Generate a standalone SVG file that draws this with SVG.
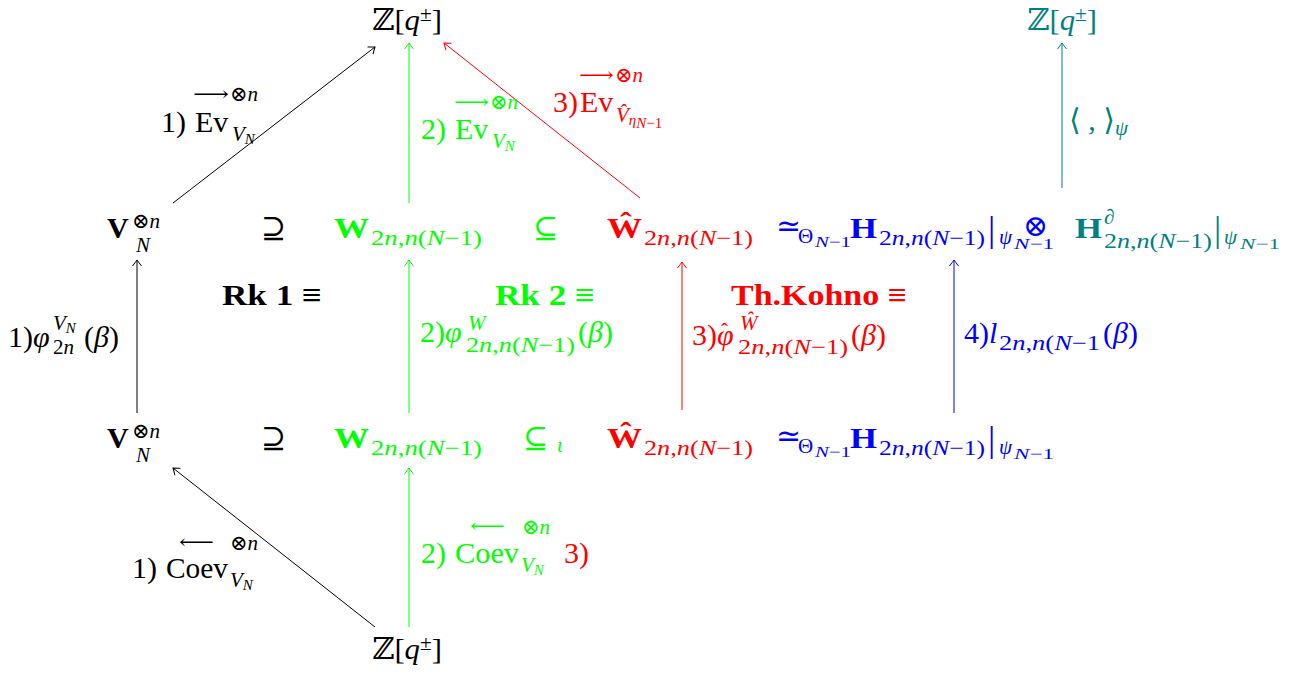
<svg xmlns="http://www.w3.org/2000/svg" width="1306" height="674" viewBox="0 0 1306 674">
<style>
text{font-family:"Liberation Serif","DejaVu Serif",serif;font-size:30px}
.s{font-size:21px}
.ss{font-size:15px}
.b{font-weight:bold}
.i{font-style:italic}
.n{font-style:normal}
.k{fill:#000}
.g{fill:#00ff00}
.r{fill:#ff0000}
.bl{fill:#0000ff}
.t{fill:#008080}
.bar{font-size:36px}
.ln{fill:none;stroke-width:1}
</style>
<defs>
<marker id="ak" markerUnits="userSpaceOnUse" markerWidth="12" markerHeight="12" viewBox="-7 -6 8 12" refX="0" refY="0" orient="auto"><path d="M-6,-4.5 Q-1.5,-1 0,0 Q-1.5,1 -6,4.5" fill="none" stroke="#000" stroke-width="1"/></marker>
<marker id="ag" markerUnits="userSpaceOnUse" markerWidth="12" markerHeight="12" viewBox="-7 -6 8 12" refX="0" refY="0" orient="auto"><path d="M-6,-4.5 Q-1.5,-1 0,0 Q-1.5,1 -6,4.5" fill="none" stroke="#00ff00" stroke-width="1"/></marker>
<marker id="ar" markerUnits="userSpaceOnUse" markerWidth="12" markerHeight="12" viewBox="-7 -6 8 12" refX="0" refY="0" orient="auto"><path d="M-6,-4.5 Q-1.5,-1 0,0 Q-1.5,1 -6,4.5" fill="none" stroke="#ff0000" stroke-width="1"/></marker>
<marker id="ab" markerUnits="userSpaceOnUse" markerWidth="12" markerHeight="12" viewBox="-7 -6 8 12" refX="0" refY="0" orient="auto"><path d="M-6,-4.5 Q-1.5,-1 0,0 Q-1.5,1 -6,4.5" fill="none" stroke="#0000ff" stroke-width="1"/></marker>
<marker id="at" markerUnits="userSpaceOnUse" markerWidth="12" markerHeight="12" viewBox="-7 -6 8 12" refX="0" refY="0" orient="auto"><path d="M-6,-4.5 Q-1.5,-1 0,0 Q-1.5,1 -6,4.5" fill="none" stroke="#008080" stroke-width="1"/></marker>
</defs>

<g id="connectors">
<path class="ln" stroke="#000" d="M173,203 L375,47" marker-end="url(#ak)"/>
<path class="ln" stroke="#00ff00" d="M409,203 L409,43" marker-end="url(#ag)"/>
<path class="ln" stroke="#ff0000" d="M640,198 L444,43" marker-end="url(#ar)"/>
<path class="ln" stroke="#008080" d="M1062,188 L1062,43" marker-end="url(#at)"/>
<path class="ln" stroke="#000" d="M137,413 L137,260" marker-end="url(#ak)"/>
<path class="ln" stroke="#00ff00" d="M409,413 L409,260" marker-end="url(#ag)"/>
<path class="ln" stroke="#ff0000" d="M682,410 L682,262" marker-end="url(#ar)"/>
<path class="ln" stroke="#0000ff" d="M954,413 L954,260" marker-end="url(#ab)"/>
<path class="ln" stroke="#000" d="M375,627 L173,468" marker-end="url(#ak)"/>
<path class="ln" stroke="#00ff00" d="M409,627 L409,468" marker-end="url(#ag)"/>
</g>

<g id="z-top">
<text class="k" x="372" y="30" textLength="70" lengthAdjust="spacingAndGlyphs">ℤ[<tspan class="i">q</tspan><tspan class="s" dy="-9">±</tspan><tspan dy="9">]</tspan></text>
</g>
<g id="z-top-teal">
<text class="t" x="1027" y="30" textLength="70" lengthAdjust="spacingAndGlyphs">ℤ[<tspan class="i">q</tspan><tspan class="s" dy="-9">±</tspan><tspan dy="9">]</tspan></text>
</g>

<g id="v-top">
<text class="k b" x="107" y="238">V</text>
<text class="k s" x="132" y="228">⊗<tspan class="i">n</tspan></text>
<text class="k s i" x="136" y="252">N</text>
</g>
<g id="supset-top"><text class="k" x="261" y="238">⊇</text></g>
<g id="w-top">
<text class="g b" x="334" y="238" textLength="35" lengthAdjust="spacingAndGlyphs">W</text>
<text class="g s" x="371" y="245" textLength="111" lengthAdjust="spacingAndGlyphs">2<tspan class="i">n</tspan>,<tspan class="i">n</tspan>(<tspan class="i">N</tspan>−1)</text>
</g>
<g id="subseteq-top"><text class="g" x="533" y="238">⊆</text></g>
<g id="what-top">
<text class="r b" x="607" y="238" textLength="35" lengthAdjust="spacingAndGlyphs">Ŵ</text>
<text class="r s" x="644" y="245" textLength="109" lengthAdjust="spacingAndGlyphs">2<tspan class="i">n</tspan>,<tspan class="i">n</tspan>(<tspan class="i">N</tspan>−1)</text>
</g>
<g id="h-top">
<text class="bl" x="776" y="236">≃</text>
<text class="bl s" x="798" y="243">Θ</text>
<text class="bl ss i" x="815" y="247" textLength="36" lengthAdjust="spacingAndGlyphs">N<tspan class="n">−1</tspan></text>
<text class="bl b" x="850" y="238" textLength="27" lengthAdjust="spacingAndGlyphs">H</text>
<text class="bl s" x="879" y="245" textLength="106" lengthAdjust="spacingAndGlyphs">2<tspan class="i">n</tspan>,<tspan class="i">n</tspan>(<tspan class="i">N</tspan>−1)</text>
<text class="bl bar" x="988" y="241">|</text>
<text class="bl s i" x="999" y="244">ψ</text>
<text class="bl ss i" x="1014" y="249" textLength="40" lengthAdjust="spacingAndGlyphs">N<tspan class="n">−1</tspan></text>
<text class="bl" x="1023" y="236">⊗</text>
</g>
<g id="hd-top">
<text class="t b" x="1075" y="238" textLength="27" lengthAdjust="spacingAndGlyphs">H</text>
<text class="t s i" x="1104" y="224">∂</text>
<text class="t s" x="1104" y="248" textLength="108" lengthAdjust="spacingAndGlyphs">2<tspan class="i">n</tspan>,<tspan class="i">n</tspan>(<tspan class="i">N</tspan>−1)</text>
<text class="t bar" x="1214" y="241">|</text>
<text class="t s i" x="1224" y="244">ψ</text>
<text class="t ss i" x="1240" y="249" textLength="40" lengthAdjust="spacingAndGlyphs">N<tspan class="n">−1</tspan></text>
</g>

<g id="v-bottom">
<text class="k b" x="107" y="448">V</text>
<text class="k s" x="132" y="438">⊗<tspan class="i">n</tspan></text>
<text class="k s i" x="136" y="462">N</text>
</g>
<g id="supset-bottom"><text class="k" x="261" y="448">⊇</text></g>
<g id="w-bottom">
<text class="g b" x="334" y="448" textLength="35" lengthAdjust="spacingAndGlyphs">W</text>
<text class="g s" x="371" y="455" textLength="111" lengthAdjust="spacingAndGlyphs">2<tspan class="i">n</tspan>,<tspan class="i">n</tspan>(<tspan class="i">N</tspan>−1)</text>
</g>
<g id="subseteq-bottom"><text class="g" x="523" y="448">⊆</text><text class="g s i" x="557" y="452">ι</text></g>
<g id="what-bottom">
<text class="r b" x="607" y="448" textLength="35" lengthAdjust="spacingAndGlyphs">Ŵ</text>
<text class="r s" x="644" y="455" textLength="109" lengthAdjust="spacingAndGlyphs">2<tspan class="i">n</tspan>,<tspan class="i">n</tspan>(<tspan class="i">N</tspan>−1)</text>
</g>
<g id="h-bottom">
<text class="bl" x="776" y="446">≃</text>
<text class="bl s" x="798" y="453">Θ</text>
<text class="bl ss i" x="815" y="457" textLength="36" lengthAdjust="spacingAndGlyphs">N<tspan class="n">−1</tspan></text>
<text class="bl b" x="850" y="448" textLength="27" lengthAdjust="spacingAndGlyphs">H</text>
<text class="bl s" x="879" y="455" textLength="106" lengthAdjust="spacingAndGlyphs">2<tspan class="i">n</tspan>,<tspan class="i">n</tspan>(<tspan class="i">N</tspan>−1)</text>
<text class="bl bar" x="988" y="451">|</text>
<text class="bl s i" x="999" y="454">ψ</text>
<text class="bl ss i" x="1014" y="459" textLength="40" lengthAdjust="spacingAndGlyphs">N<tspan class="n">−1</tspan></text>
</g>

<g id="z-bottom">
<text class="k" x="372" y="659" textLength="70" lengthAdjust="spacingAndGlyphs">ℤ[<tspan class="i">q</tspan><tspan class="s" dy="-9">±</tspan><tspan dy="9">]</tspan></text>
</g>

<g id="labels">
<text class="k" x="161" y="132">1)</text>
<text class="k" x="195" y="132">Ev</text>
<text class="k s i" x="232" y="141">V<tspan class="ss" dy="3">N</tspan></text>
<text class="k s" x="193" y="101" textLength="36" lengthAdjust="spacingAndGlyphs">⟶</text>
<text class="k s" x="230" y="101">⊗<tspan class="i">n</tspan></text>

<text class="g" x="421" y="139">2)</text>
<text class="g" x="455" y="139">Ev</text>
<text class="g s i" x="492" y="148">V<tspan class="ss" dy="3">N</tspan></text>
<text class="g s" x="454" y="109" textLength="35" lengthAdjust="spacingAndGlyphs">⟶</text>
<text class="g s" x="490" y="109">⊗<tspan class="i">n</tspan></text>

<text class="r" x="553" y="112">3)</text>
<text class="r" x="580" y="112">Ev</text>
<text class="r s i" x="616" y="122">V̂<tspan class="ss" dy="3">η</tspan><tspan class="ss" dy="3">N</tspan><tspan class="ss n">−1</tspan></text>
<text class="r s" x="579" y="82" textLength="35" lengthAdjust="spacingAndGlyphs">⟶</text>
<text class="r s" x="615" y="82">⊗<tspan class="i">n</tspan></text>

<text class="t" x="1069" y="130">⟨ , ⟩<tspan class="s i" dy="5">ψ</tspan></text>

<text class="k b" x="222" y="305" textLength="100" lengthAdjust="spacingAndGlyphs">Rk 1 ≡</text>
<text class="k" x="8" y="347">1)<tspan class="i">φ</tspan></text>
<text class="k s i" x="53" y="330">V<tspan class="ss" dy="3">N</tspan></text>
<text class="k s" x="53" y="354">2<tspan class="i">n</tspan></text>
<text class="k" x="84" y="347">(<tspan class="i">β</tspan>)</text>

<text class="g b" x="495" y="305" textLength="100" lengthAdjust="spacingAndGlyphs">Rk 2 ≡</text>
<text class="g" x="420" y="342">2)<tspan class="i">φ</tspan></text>
<text class="g s i" x="468" y="330">W</text>
<text class="g s" x="466" y="352" textLength="109" lengthAdjust="spacingAndGlyphs">2<tspan class="i">n</tspan>,<tspan class="i">n</tspan>(<tspan class="i">N</tspan>−1)</text>
<text class="g" x="578" y="342">(<tspan class="i">β</tspan>)</text>

<text class="r b" x="731" y="305" textLength="176" lengthAdjust="spacingAndGlyphs">Th.Kohno ≡</text>
<text class="r" x="692" y="345">3)<tspan class="i">φ</tspan></text>
<text class="r s" x="721" y="338">ˆ</text>
<text class="r s i" x="740" y="330">Ŵ</text>
<text class="r s" x="738" y="354" textLength="110" lengthAdjust="spacingAndGlyphs">2<tspan class="i">n</tspan>,<tspan class="i">n</tspan>(<tspan class="i">N</tspan>−1)</text>
<text class="r" x="851" y="345">(<tspan class="i">β</tspan>)</text>

<text class="bl" x="964" y="343">4)<tspan class="i">l</tspan></text>
<text class="bl s" x="999" y="350" textLength="101" lengthAdjust="spacingAndGlyphs">2<tspan class="i">n</tspan>,<tspan class="i">n</tspan>(<tspan class="i">N</tspan>−1</text>
<text class="bl" x="1103" y="343">(<tspan class="i">β</tspan>)</text>

<text class="k" x="132" y="578">1)</text>
<text class="k" x="166" y="578" textLength="62" lengthAdjust="spacingAndGlyphs">Coev</text>
<text class="k s i" x="230" y="587">V<tspan class="ss" dy="3">N</tspan></text>
<text class="k s" x="179" y="549" textLength="35" lengthAdjust="spacingAndGlyphs">⟵</text>
<text class="k s" x="230" y="550">⊗<tspan class="i">n</tspan></text>

<text class="g" x="421" y="563">2)</text>
<text class="g" x="455" y="563" textLength="64" lengthAdjust="spacingAndGlyphs">Coev</text>
<text class="g s i" x="521" y="572">V<tspan class="ss" dy="3">N</tspan></text>
<text class="g s" x="470" y="533" textLength="35" lengthAdjust="spacingAndGlyphs">⟵</text>
<text class="g s" x="522" y="534">⊗<tspan class="i">n</tspan></text>
<text class="r" x="564" y="563">3)</text>
</g>
</svg>
